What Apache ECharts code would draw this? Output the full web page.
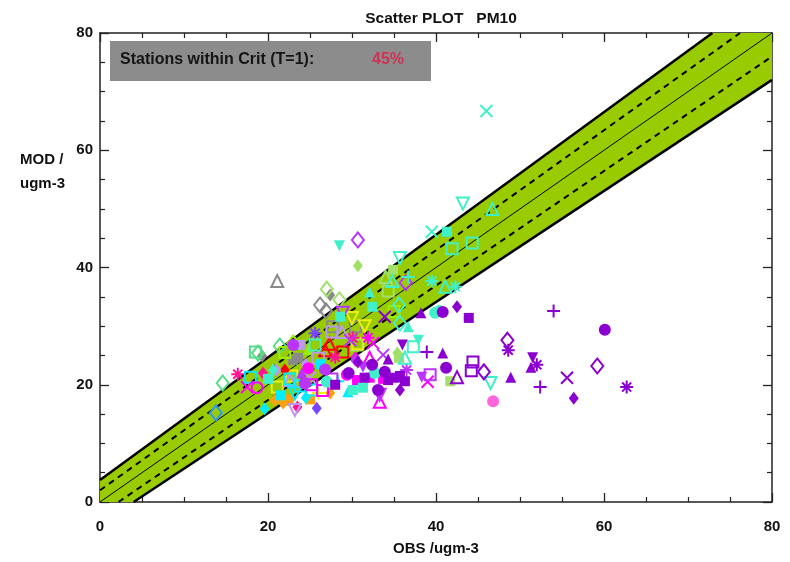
<!DOCTYPE html>
<html>
<head>
<meta charset="utf-8">
<script src="https://cdn.jsdelivr.net/npm/echarts@6/dist/echarts.min.js"></script>
<style>html,body{margin:0;padding:0;background:#fff;}#c{width:790px;height:562px;}</style>
</head>
<body>
<div id="c"></div>
<script>
// ---- axis ----
const axisMin = 0, axisMax = 80, axisStep = 20;
const titleText = 'Scatter PLOT   PM10';
const xName = 'OBS /ugm-3';
const yName = 'MOD /\nugm-3';
const critLabel = 'Stations within Crit (T=1):';
const critValue = '45%';

// ---- acceptance band ----
const bandPolygon = [[0,0],[0,3.75],[72.9,80],[80,80],[80,72],[4,0]];
const upperEdge = [[0,3.75],[72.9,80]];
const lowerEdge = [[4,0],[80,72]];
const upperDash = [[0,2],[76.2,80]];
const lowerDash = [[2.2,0],[80,76]];
const identity = [[0,0],[80,80]];

// ---- stations: [obs, mod, symbol] ----
const purplePts = [[54.0,32.6,'+'],[60.1,29.4,'O'],[48.5,27.6,'d'],[48.6,25.9,'*'],[51.5,24.6,'V'],[51.3,23.0,'T'],[52.0,23.4,'*'],[59.2,23.2,'d'],[55.6,21.2,'X'],[48.9,21.3,'T'],[52.4,19.6,'+'],[62.7,19.6,'*'],[56.4,17.7,'D'],[45.7,22.2,'d'],[44.4,23.9,'s'],[44.2,22.4,'s'],[42.5,21.3,'t'],[41.2,22.9,'O'],[40.8,25.4,'T'],[38.9,25.6,'+'],[36.0,26.8,'V'],[38.2,32.3,'T'],[40.8,32.4,'O'],[42.5,33.3,'D'],[43.9,31.4,'S'],[33.9,31.6,'X'],[35.7,19.1,'D'],[35.1,21.2,'S'],[34.3,20.8,'S'],[33.9,22.2,'O'],[35.7,21.5,'S'],[36.3,20.6,'S'],[33.1,19.1,'O'],[31.5,21.2,'S'],[32.4,23.4,'O'],[30.7,23.9,'D'],[34.3,24.4,'T'],[29.6,22.0,'O'],[28.0,20.0,'S']];
const aquaPts = [[46.0,66.7,'X'],[43.2,50.9,'v'],[46.7,50.0,'t'],[39.5,46.1,'X'],[41.3,46.1,'S'],[41.9,43.2,'s'],[44.3,44.2,'s'],[35.7,41.6,'v'],[34.8,37.7,'t'],[36.7,38.4,'+'],[39.5,37.7,'*'],[41.1,36.7,'t'],[42.3,36.7,'*'],[35.6,33.6,'d'],[35.7,30.5,'d'],[39.9,32.3,'O'],[40.4,32.6,'O'],[36.7,29.9,'T'],[37.9,27.6,'V'],[37.3,26.5,'s'],[36.3,24.6,'t'],[28.5,43.7,'V'],[32.1,35.8,'T'],[32.4,33.3,'S'],[28.6,31.6,'S'],[30.1,19.1,'S'],[32.7,22.0,'O'],[31.3,19.5,'S'],[20.6,22.5,'D'],[25.6,26.8,'s'],[46.5,20.3,'v'],[27.0,20.5,'O'],[20.0,21.0,'S']];
const lightGreenPts = [[34.9,39.6,'S'],[34.3,36.0,'s'],[34.0,38.4,'t'],[30.7,40.3,'D'],[27.0,36.3,'d'],[28.5,34.5,'d'],[41.7,20.6,'S'],[35.4,25.4,'D'],[35.6,24.6,'S'],[30.6,26.8,'s']];
const seaGreenPts = [[18.8,25.4,'d'],[21.4,26.6,'d'],[14.6,20.3,'d'],[18.5,25.6,'s']];
const grayPts = [[21.1,37.7,'t'],[27.4,35.3,'D'],[26.2,33.6,'d'],[27.7,29.9,'s'],[19.3,24.9,'D'],[23.0,24.2,'S'],[23.6,24.6,'S'],[26.9,32.6,'d'],[30.4,29.9,'s']];
const violetPts = [[30.7,44.7,'d'],[36.4,37.4,'d'],[28.9,32.3,'v'],[29.8,27.6,'X'],[33.7,25.1,'X'],[36.5,22.5,'*'],[38.3,21.3,'V'],[39.3,21.7,'s'],[23.0,26.8,'O'],[30.4,24.2,'D'],[31.3,23.0,'V'],[26.8,22.6,'O'],[27.6,21.0,'s'],[24.4,20.2,'O'],[33.3,18.3,'v'],[24.0,22.0,'T']];
const magentaPts = [[32.5,27.1,'X'],[32.1,24.6,'t'],[17.5,19.6,'X'],[30.6,20.8,'S'],[33.3,17.1,'t'],[39.0,20.5,'X'],[32.1,21.2,'S'],[33.7,21.0,'S'],[30.4,24.6,'D'],[29.4,21.7,'O'],[18.7,19.5,'o'],[25.2,20.0,'s'],[31.9,28.0,'*'],[24.8,22.8,'O'],[26.5,19.0,'s']];
const pinkPts = [[16.4,21.8,'*'],[19.4,22.0,'D'],[23.5,16.2,'D'],[28.0,24.7,'*'],[30.1,28.0,'*']];
const lightPinkPts = [[46.8,17.2,'O']];
const redPts = [[22.0,22.5,'D'],[26.8,25.9,'t'],[28.9,25.6,'s'],[27.3,27.0,'t']];
const yellowPts = [[21.1,19.6,'s'],[30.7,27.0,'s'],[30.0,31.4,'v'],[22.8,21.5,'s'],[26.0,18.6,'+'],[31.5,30.0,'v']];
const orangePts = [[20.8,17.4,'D'],[22.4,17.4,'O'],[27.4,18.6,'D'],[21.8,16.9,'D'],[25.0,17.5,'S']];
const bluePts = [[13.8,15.2,'d']];
const blueVioletPts = [[25.6,28.8,'*'],[25.8,16.0,'D']];
const cyanPts = [[17.9,21.3,'s'],[19.6,15.9,'D'],[25.2,19.1,'s'],[28.3,20.6,'+'],[29.5,18.8,'T'],[23.8,19.8,'s'],[22.6,21.0,'s'],[23.2,18.5,'v'],[26.3,23.5,'S'],[24.5,17.8,'D'],[21.5,18.2,'S']];
const lavenderPts = [[23.2,15.7,'v'],[28.8,29.0,'t'],[27.6,29.0,'s'],[25.0,21.2,'X'],[22.6,20.8,'t'],[23.8,26.8,'S'],[24.5,23.5,'D'],[26.0,24.5,'s'],[21.0,22.5,'D']];
const limePts = [[23.0,27.1,'d'],[22.0,25.5,'s'],[24.8,26.0,'T'],[35.0,32.5,'s']];

const groups = [
  {pts: grayPts, color: '#8a8a8a'},
  {pts: seaGreenPts, color: '#55dd88'},
  {pts: lightGreenPts, color: '#a2e06a'},
  {pts: limePts, color: '#99ee00'},
  {pts: yellowPts, color: '#eeee11'},
  {pts: orangePts, color: '#ffa010'},
  {pts: redPts, color: '#ff0000'},
  {pts: pinkPts, color: '#ff1493'},
  {pts: lightPinkPts, color: '#ff66dd'},
  {pts: bluePts, color: '#3399ee'},
  {pts: blueVioletPts, color: '#7744ff'},
  {pts: lavenderPts, color: '#bb99ee'},
  {pts: cyanPts, color: '#00eeff'},
  {pts: magentaPts, color: '#ff00ff'},
  {pts: violetPts, color: '#bb33ff'},
  {pts: aquaPts, color: '#40f0c8'},
  {pts: purplePts, color: '#8b00d0'}
];

const SYM = {
  D: {symbol: 'diamond', size: [10, 13], fill: true},
  d: {symbol: 'diamond', size: [12, 15], fill: false},
  T: {symbol: 'triangle', size: [11, 11], fill: true},
  t: {symbol: 'triangle', size: [12, 12], fill: false},
  V: {symbol: 'triangle', size: [11, 11], fill: true, rot: 180},
  v: {symbol: 'triangle', size: [12, 12], fill: false, rot: 180},
  S: {symbol: 'rect', size: [10, 10], fill: true},
  s: {symbol: 'rect', size: [11, 11], fill: false},
  O: {symbol: 'circle', size: [12, 12], fill: true},
  o: {symbol: 'circle', size: [11, 11], fill: false},
  X: {symbol: 'path://M0,0L10,10M10,0L0,10', size: [12, 12], fill: false},
  '+': {symbol: 'path://M5,0L5,10M0,5L10,5', size: [13, 13], fill: false},
  '*': {symbol: 'path://M5,0L5,10M0,5L10,5M1.5,1.5L8.5,8.5M8.5,1.5L1.5,8.5', size: [13, 13], fill: false}
};

function buildScatter(g) {
  return {
    type: 'scatter', z: 5, silent: true,
    data: g.pts.map(p => {
      const s = SYM[p[2]];
      return {
        value: [p[0], p[1]],
        symbol: s.symbol,
        symbolSize: s.size,
        symbolRotate: s.rot || 0,
        itemStyle: {
          color: s.fill ? g.color : 'rgba(0,0,0,0)',
          borderColor: g.color,
          borderWidth: s.fill ? 0 : 2,
          opacity: 1
        }
      };
    })
  };
}

function lineSeries(d, width, type) {
  return {
    type: 'line', data: d, showSymbol: false, silent: true, z: 3,
    lineStyle: {color: '#000', width: width, type: type},
    animation: false
  };
}

const font = 'Liberation Sans, Arial, sans-serif';
const axisCommon = {
  min: axisMin, max: axisMax, interval: axisStep,
  axisLine: {onZero: false, lineStyle: {color: '#222', width: 1.5}},
  axisTick: {inside: true, length: 9, lineStyle: {color: '#222', width: 1.3}},
  minorTick: {show: true, splitNumber: 4, length: 5, lineStyle: {color: '#222', width: 1.2}},
  splitLine: {show: false}
};

const chart = echarts.init(document.getElementById('c'), null, {renderer: 'canvas'});
chart.setOption({
  animation: false,
  backgroundColor: '#fff',
  title: {
    text: titleText, left: 436, top: 6, textAlign: 'center',
    textStyle: {fontFamily: font, fontWeight: 'bold', fontSize: 15.5, color: '#111'}
  },
  grid: {left: 100, right: 18, top: 33, bottom: 60},
  xAxis: [
    Object.assign({}, axisCommon, {
      type: 'value', position: 'bottom',
      name: xName, nameLocation: 'middle', nameGap: 39,
      nameTextStyle: {fontFamily: font, fontWeight: 'bold', fontSize: 15, color: '#111'},
      axisLabel: {margin: 17, fontFamily: font, fontWeight: 'bold', fontSize: 15, color: '#111'}
    }),
    Object.assign({}, axisCommon, {
      type: 'value', position: 'top', axisLabel: {show: false}
    })
  ],
  yAxis: [
    Object.assign({}, axisCommon, {
      type: 'value', position: 'left',
      axisLabel: {margin: 7, fontFamily: font, fontWeight: 'bold', fontSize: 15, color: '#111'}
    }),
    Object.assign({}, axisCommon, {
      type: 'value', position: 'right', axisLabel: {show: false}
    })
  ],
  graphic: [
    {type: 'text', left: 20, top: 148, style: {text: yName, font: 'bold 15px ' + font, fill: '#111', lineHeight: 24}},
    {type: 'rect', shape: {x: 110, y: 41, width: 321, height: 40}, style: {fill: '#8c8c8c'}, z: 10},
    {type: 'text', left: 120, top: 52, z: 11, style: {text: critLabel, font: 'bold 16px ' + font, fill: '#151515'}},
    {type: 'text', left: 372, top: 52, z: 11, style: {text: critValue, font: 'bold 16px ' + font, fill: '#cc3355'}}
  ],
  series: [
    {
      type: 'custom', z: 1, silent: true,
      data: [[0, 0]],
      renderItem: function (params, api) {
        return {
          type: 'polygon',
          shape: {points: bandPolygon.map(p => api.coord(p))},
          style: {fill: '#99cc00'}
        };
      },
      clip: true
    },
    lineSeries(upperEdge, 2.5, 'solid'),
    lineSeries(lowerEdge, 2.5, 'solid'),
    lineSeries(upperDash, 2, [6, 5]),
    lineSeries(lowerDash, 2, [6, 5]),
    lineSeries(identity, 1, 'solid')
  ].concat(groups.map(buildScatter))
});
</script>
</body>
</html>
